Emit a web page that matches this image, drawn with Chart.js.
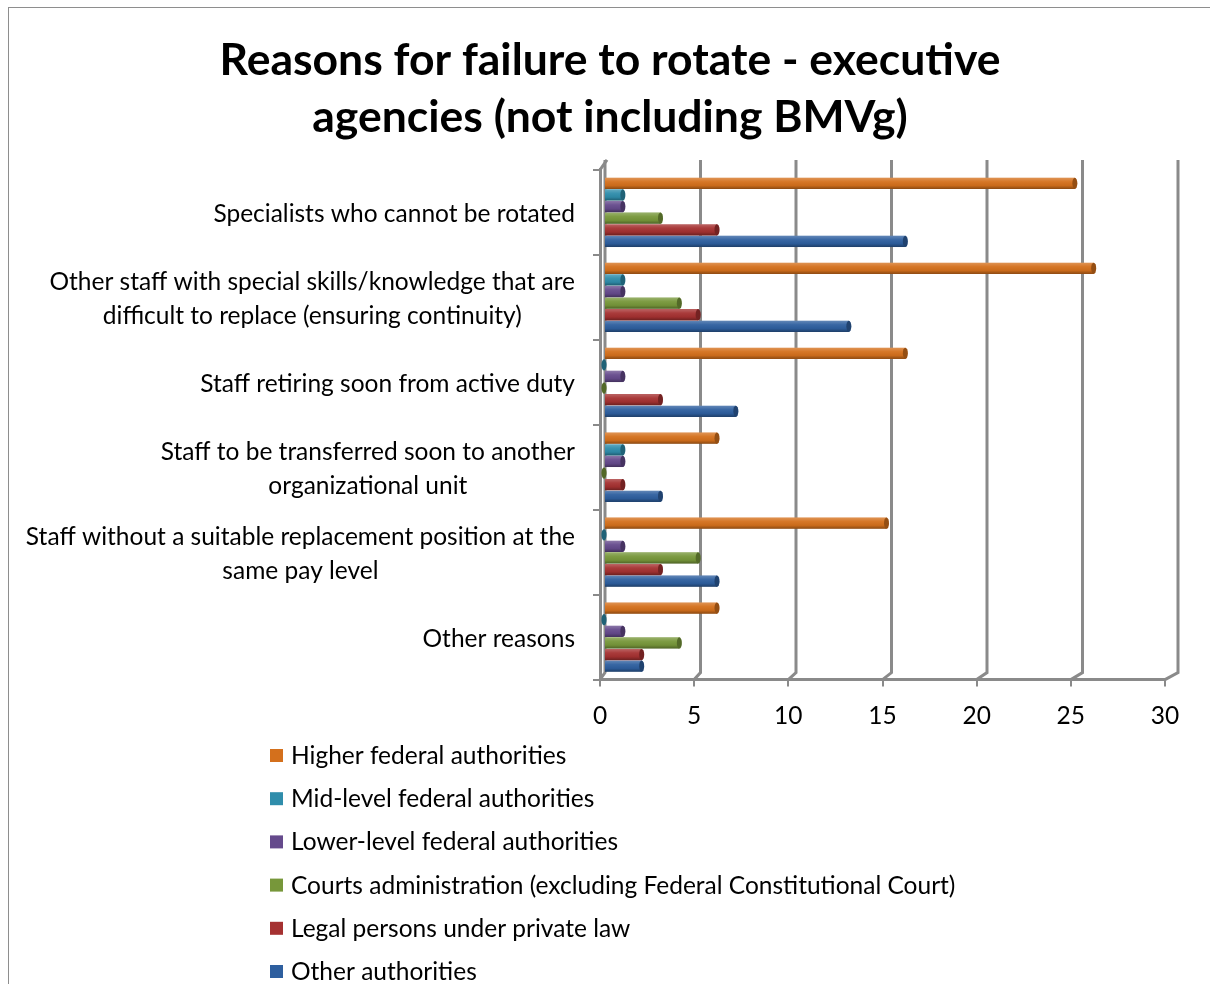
<!DOCTYPE html>
<html>
<head>
<meta charset="utf-8">
<script src="https://cdn.jsdelivr.net/npm/chart.js@4.4.0/dist/chart.umd.min.js"></script>
<style>
  html, body { margin: 0; padding: 0; background: #fff; overflow: hidden; }
  .frame { position: absolute; left: 8px; top: 7px; width: 1400px; height: 1200px; border: 1px solid #8e8e8e; }
  #chart { position: absolute; left: 0; top: 0; }
</style>
</head>
<body>
<div class="frame"></div>
<canvas id="chart" width="1210" height="984"></canvas>
<script>
// data
const categories = [
  ["Specialists who cannot be rotated"],
  ["Other staff with special skills/knowledge that are", "difficult to replace (ensuring continuity)"],
  ["Staff retiring soon from active duty"],
  ["Staff to be transferred soon to another", "organizational unit"],
  ["Staff without a suitable replacement position at the", "same pay level"],
  ["Other reasons"]
];
const seriesNames = [
  "Higher federal authorities",
  "Mid-level federal authorities",
  "Lower-level federal authorities",
  "Courts administration (excluding Federal Constitutional Court)",
  "Legal persons under private law",
  "Other authorities"
];
const higherFederal = [25, 26, 16, 6, 15, 6];
const midLevel = [1, 1, 0, 1, 0, 0];
const lowerLevel = [1, 1, 1, 1, 1, 1];
const courtsAdmin = [3, 4, 0, 0, 5, 4];
const legalPersons = [6, 5, 3, 1, 3, 2];
const otherAuthorities = [16, 13, 7, 3, 6, 2];
const xTicks = [0, 5, 10, 15, 20, 25, 30];

const colors = ["#d4701c", "#2f8dab", "#654a8c", "#77973a", "#a53131", "#2e5f9f"];
const FONT = "Lato";
const TEXT_SIZE = 24.5;
const GRID = "#8a8a8a";

// 3d-ish back wall grid lines
const wallGrid = {
  id: "wallGrid",
  beforeDatasetsDraw(chart) {
    const c = chart.ctx, a = chart.chartArea, xs = chart.scales.x;
    c.save();
    c.strokeStyle = GRID;
    c.lineWidth = 3;
    xTicks.forEach(v => {
      const px = xs.getPixelForValue(v);
      const dx = 5 + 8 * v / 30;
      c.beginPath();
      c.moveTo(px + dx, a.top - 10);
      c.lineTo(px + dx, a.bottom - 7);
      c.lineTo(px, a.bottom);
      c.stroke();
    });
    c.beginPath();
    c.moveTo(a.left, a.top);
    c.lineTo(a.left + 7, a.top - 10);
    c.stroke();
    c.restore();
    // bars sit a little into the depth
    chart.ctx.save();
    chart.ctx.translate(4, 0);
  },
  afterDatasetsDraw(chart) {
    chart.ctx.restore();
  }
};

// shading + end caps on the bars
const barShade = {
  id: "barShade",
  afterDatasetsDraw(chart) {
    const c = chart.ctx;
    c.save();
    c.translate(4, 0);
    chart.data.datasets.forEach((ds, di) => {
      chart.getDatasetMeta(di).data.forEach(el => {
        const p = el.getProps(["x", "y", "base", "height"], true);
        const top = p.y - p.height / 2;
        const g = c.createLinearGradient(0, top, 0, top + p.height);
        g.addColorStop(0, "rgba(255,255,255,0.25)");
        g.addColorStop(0.35, "rgba(255,255,255,0.05)");
        g.addColorStop(0.7, "rgba(0,0,0,0.05)");
        g.addColorStop(1, "rgba(0,0,0,0.35)");
        c.fillStyle = g;
        c.fillRect(p.base, top, p.x - p.base, p.height);
        c.beginPath();
        c.ellipse(p.x, p.y, 2.5, p.height / 2, 0, 0, Math.PI * 2);
        c.fillStyle = ds.backgroundColor;
        c.fill();
        c.fillStyle = "rgba(0,0,0,0.3)";
        c.fill();
      });
    });
    c.restore();
  }
};

// category labels: right-aligned block, lines centred within the block
const catLabels = {
  id: "catLabels",
  afterDraw(chart) {
    const c = chart.ctx, ys = chart.scales.y;
    const right = chart.chartArea.left - 25;
    const lh = 34;
    c.save();
    c.font = TEXT_SIZE + "px " + FONT;
    c.fillStyle = "#000";
    c.textAlign = "center";
    c.textBaseline = "middle";
    categories.forEach((lines, i) => {
      const cy = ys.getPixelForTick(i) + 2;
      const w = Math.max(...lines.map(s => c.measureText(s).width));
      const y0 = cy - (lines.length - 1) * lh / 2;
      lines.forEach((s, k) => c.fillText(s, right - w / 2, y0 + k * lh));
    });
    c.restore();
  }
};

// legend stacked one item per row
const stackLegend = {
  id: "stackLegend",
  afterDraw(chart) {
    const c = chart.ctx;
    c.save();
    c.font = TEXT_SIZE + "px " + FONT;
    c.textBaseline = "middle";
    chart.data.datasets.forEach((ds, i) => {
      const y = 756 + i * 43.2;
      c.fillStyle = ds.backgroundColor;
      c.fillRect(270, y - 7, 13, 13);
      c.fillStyle = "#000";
      c.fillText(ds.label, 291, y);
    });
    c.restore();
  }
};

const seriesData = [higherFederal, midLevel, lowerLevel, courtsAdmin, legalPersons, otherAuthorities];

new Chart(document.getElementById("chart"), {
  type: "bar",
  data: {
    labels: categories,
    datasets: seriesNames.map((name, i) => ({
      label: name,
      data: seriesData[i],
      backgroundColor: colors[i],
      borderWidth: 0,
      categoryPercentage: 0.82,
      barPercentage: 0.97
    }))
  },
  options: {
    indexAxis: "y",
    responsive: false,
    animation: false,
    devicePixelRatio: 1,
    layout: { padding: { left: 55, right: 45, top: 0, bottom: 238 } },
    plugins: {
      legend: { display: false },
      tooltip: { enabled: false },
      title: {
        display: true,
        text: ["Reasons for failure to rotate - executive", "agencies (not including BMVg)"],
        color: "#000",
        font: { family: FONT, size: 44.5, weight: "bold", lineHeight: 1.28 },
        padding: { top: 32, bottom: 24 }
      }
    },
    scales: {
      x: {
        min: 0,
        max: 30,
        afterBuildTicks: s => { s.ticks = xTicks.map(v => ({ value: v })); },
        grid: { drawOnChartArea: false, drawTicks: true, tickLength: 7, color: GRID, lineWidth: 2 },
        border: { color: GRID, width: 3 },
        ticks: { color: "#000", font: { family: FONT, size: TEXT_SIZE }, padding: 15, maxRotation: 0 }
      },
      y: {
        offset: true,
        afterFit: s => { s.width = 545; },
        grid: { offset: true, drawOnChartArea: false, drawTicks: true, tickLength: 7, color: GRID, lineWidth: 2 },
        border: { color: GRID, width: 3 },
        ticks: { display: false }
      }
    }
  },
  plugins: [wallGrid, barShade, catLabels, stackLegend]
});
</script>
</body>
</html>
